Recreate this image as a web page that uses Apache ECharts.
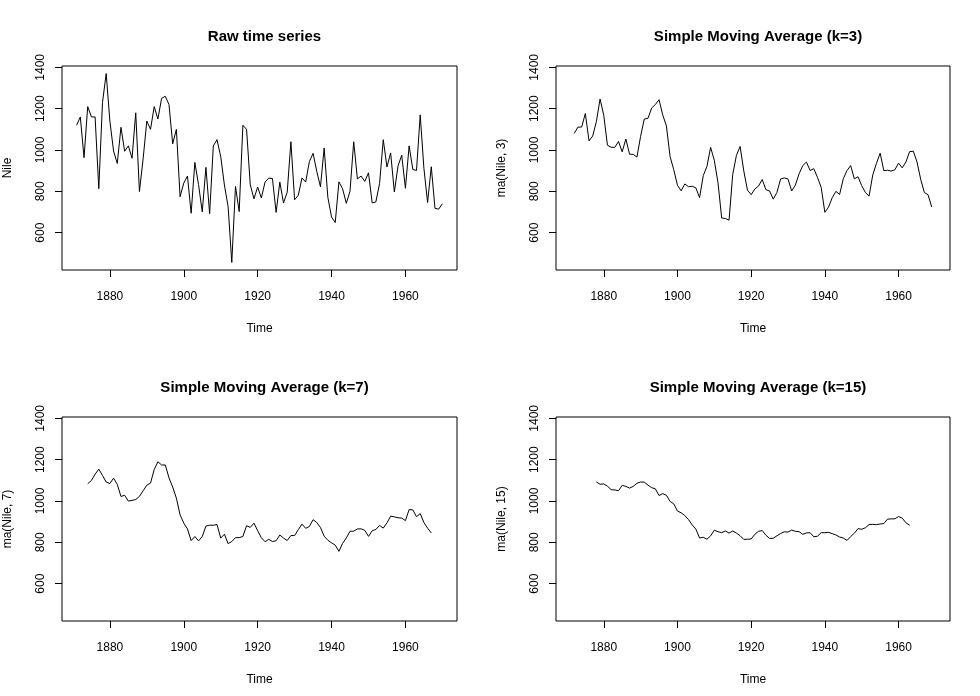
<!DOCTYPE html>
<html>
<head>
<meta charset="utf-8">
<script src="https://cdn.jsdelivr.net/npm/echarts@6/dist/echarts.min.js"></script>
<style>
html,body{margin:0;padding:0;background:#fff;}
#chart{width:980px;height:696px;}
</style>
</head>
<body>
<div id="chart"></div>
<script>
// Nile river annual flow, 1871-1970
const years = [1871,1872,1873,1874,1875,1876,1877,1878,1879,1880,1881,1882,1883,1884,1885,1886,1887,1888,1889,1890,
1891,1892,1893,1894,1895,1896,1897,1898,1899,1900,1901,1902,1903,1904,1905,1906,1907,1908,1909,1910,
1911,1912,1913,1914,1915,1916,1917,1918,1919,1920,1921,1922,1923,1924,1925,1926,1927,1928,1929,1930,
1931,1932,1933,1934,1935,1936,1937,1938,1939,1940,1941,1942,1943,1944,1945,1946,1947,1948,1949,1950,
1951,1952,1953,1954,1955,1956,1957,1958,1959,1960,1961,1962,1963,1964,1965,1966,1967,1968,1969,1970];

const nile = [1120,1160,963,1210,1160,1160,813,1230,1370,1140,995,935,1110,994,1020,960,1180,799,958,1140,
1100,1210,1150,1250,1260,1220,1030,1100,774,840,874,694,940,833,701,916,692,1020,1050,969,
831,726,456,824,702,1120,1100,832,764,821,768,845,864,862,698,845,744,796,1040,759,
781,865,845,944,984,897,822,1010,771,676,649,846,812,742,801,1040,860,874,848,890,
744,749,838,1050,918,986,797,923,975,815,1020,906,901,1170,912,746,919,718,714,740];

// ma(Nile, 3): 1872-1969
const ma3Start = 1872;
const ma3 = [1081.0,1111.0,1111.0,1176.7,1044.3,1067.7,1137.7,1246.7,1168.3,1023.3,1013.3,1013.0,1041.3,991.3,1053.3,979.7,979.0,965.7,1066.0,
1150.0,1153.3,1203.3,1220.0,1243.3,1170.0,1116.7,968.0,904.7,829.3,802.7,836.0,822.3,824.7,816.7,769.7,876.0,920.7,1013.0,950.0,
842.0,671.0,668.7,660.7,882.0,974.0,1017.3,898.7,805.7,784.3,811.3,825.7,857.0,808.0,801.7,762.3,795.0,860.0,865.0,860.0,
801.7,830.3,884.7,924.3,941.7,901.0,909.7,867.7,819.0,698.7,723.7,769.0,800.0,785.0,861.0,900.3,924.7,860.7,870.7,827.3,
794.3,777.0,879.0,935.3,984.7,900.3,902.0,898.3,904.3,936.7,913.7,942.3,992.3,994.3,942.7,859.0,794.3,783.7,724.0];

// ma(Nile, 7): 1874-1967
const ma7Start = 1874;
const ma7 = [1083.7,1099.4,1129.4,1154.7,1124.0,1091.9,1084.7,1110.6,1080.6,1022.0,1027.7,999.7,1003.0,1007.3,1022.4,1049.6,1076.7,
1086.7,1152.6,1190.0,1174.3,1174.3,1112.0,1067.7,1014.0,933.1,893.1,865.0,808.0,828.3,807.1,828.0,878.9,883.0,882.7,886.3,
820.6,839.4,794.0,804.0,822.7,822.9,828.3,880.4,872.4,892.9,856.3,822.3,803.1,814.7,803.7,807.7,835.6,820.6,809.0,832.9,
832.9,861.4,888.3,867.9,876.9,909.6,896.1,872.0,829.9,810.1,798.0,786.6,756.7,795.1,821.4,853.6,853.9,865.0,865.3,857.9,
829.0,856.1,862.4,882.1,868.9,894.4,926.7,923.4,919.1,917.4,905.3,958.6,957.0,924.3,939.1,896.0,868.6,845.6];

// ma(Nile, 15): 1878-1963
const ma15Start = 1878;
const ma15 = [1092.0,1081.3,1082.7,1071.7,1054.9,1053.6,1049.6,1076.1,1070.7,1062.7,1070.7,1085.7,1092.1,
1091.4,1076.7,1064.7,1059.0,1026.6,1036.0,1027.7,998.4,986.1,951.6,942.9,929.6,910.2,884.3,864.0,821.1,824.4,815.2,831.6,
858.7,851.5,846.9,854.9,845.0,855.2,844.8,832.3,814.2,815.1,816.3,839.0,853.4,857.2,834.6,818.9,819.8,831.8,842.7,851.3,
849.7,859.5,853.4,851.9,838.9,845.7,846.7,826.9,829.7,846.9,846.6,848.5,842.1,835.9,825.7,820.8,809.3,827.9,844.1,866.5,
863.3,870.7,886.2,887.1,885.8,888.9,890.7,912.1,913.6,913.7,925.1,917.1,894.7,882.8];

const xTicks = [1880, 1900, 1920, 1940, 1960];
const yTicks = [600, 800, 1000, 1200, 1400];
const titles = ['Raw time series', 'Simple Moving Average (k=3)', 'Simple Moving Average (k=7)', 'Simple Moving Average (k=15)'];
const yNames = ['Nile', 'ma(Nile, 3)', 'ma(Nile, 7)', 'ma(Nile, 15)'];

function pairs(start, vals) {
  return vals.map((v, i) => [start + i, v]);
}
const seriesData = [pairs(years[0], nile), pairs(ma3Start, ma3), pairs(ma7Start, ma7), pairs(ma15Start, ma15)];

const FONT = '"Liberation Sans", Arial, Helvetica, sans-serif';
const grids = [
  {left: 62, top: 66, width: 395, height: 204},
  {left: 556, top: 66, width: 394, height: 204},
  {left: 62, top: 417, width: 395, height: 204},
  {left: 556, top: 417, width: 394, height: 204}
];
const plain = v => String(Math.round(v));

const option = {
  animation: false,
  backgroundColor: '#ffffff',
  title: grids.map((g, i) => ({
    text: titles[i],
    left: g.left + g.width / 2,
    top: g.top - 42,
    textAlign: 'center',
    textStyle: {fontFamily: FONT, fontSize: 15, fontWeight: 'bold', color: '#000'}
  })),
  grid: grids.map(g => Object.assign({show: true, borderColor: '#000', borderWidth: 1, backgroundColor: 'transparent'}, g)),
  xAxis: grids.map((g, i) => ({
    type: 'value',
    gridIndex: i,
    min: 1867.04,
    max: 1973.96,
    name: 'Time',
    nameLocation: 'middle',
    nameGap: 53,
    nameTextStyle: {fontFamily: FONT, fontSize: 12, color: '#000'},
    axisLine: {show: false},
    axisTick: {show: true, length: 7, lineStyle: {color: '#000'}, customValues: xTicks},
    axisLabel: {show: true, margin: 21, fontFamily: FONT, fontSize: 12, color: '#000', customValues: xTicks, formatter: plain},
    splitLine: {show: false}
  })),
  yAxis: grids.map((g, i) => ({
    type: 'value',
    gridIndex: i,
    min: 419.44,
    max: 1406.56,
    name: yNames[i],
    nameLocation: 'middle',
    nameGap: 48,
    nameTextStyle: {fontFamily: FONT, fontSize: 12, color: '#000'},
    axisLine: {show: false},
    axisTick: {show: true, length: 7, lineStyle: {color: '#000'}, customValues: yTicks},
    axisLabel: {show: true, rotate: 90, margin: 15, fontFamily: FONT, fontSize: 12, color: '#000', customValues: yTicks, formatter: plain},
    splitLine: {show: false}
  })),
  series: seriesData.map((d, i) => ({
    type: 'line',
    xAxisIndex: i,
    yAxisIndex: i,
    data: d,
    showSymbol: false,
    symbol: 'none',
    lineStyle: {color: '#000', width: 1},
    silent: true
  }))
};

const chart = echarts.init(document.getElementById('chart'), null, {renderer: 'canvas'});
chart.setOption(option);
</script>
</body>
</html>
